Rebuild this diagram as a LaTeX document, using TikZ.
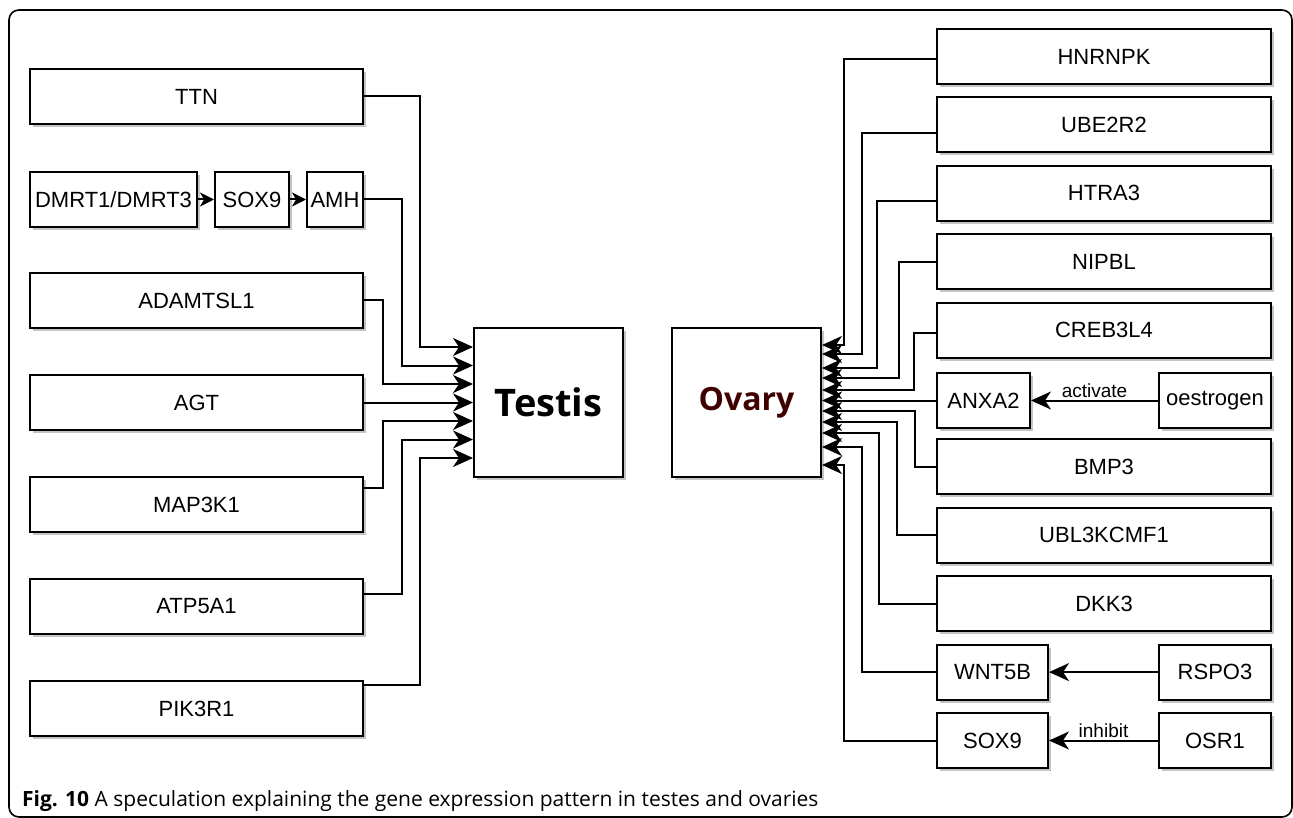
\documentclass[tikz,border=0pt]{standalone}
\usepackage{fontspec}
\setmainfont{Liberation Sans}
\newfontfamily\capfont{Open Sans}
\usetikzlibrary{arrows.meta,shadows}
\definecolor{Shade}{RGB}{196,196,196}
\definecolor{Ored}{RGB}{64,0,0}

\begin{document}
\begin{tikzpicture}[x=1pt,y=-1pt,line join=miter,
  gene/.style={draw,line width=2pt,fill=white,inner sep=0pt,minimum height=55pt,
    font=\fontsize{22}{24}\selectfont,
    drop shadow={shadow xshift=3pt,shadow yshift=-3pt,fill=Shade,opacity=1}},
  organ/.style={gene,minimum width=149pt,minimum height=149pt,font=\capfont\bfseries\fontsize{38}{42}\selectfont},
  conn/.style={line width=2pt,-{Stealth[length=20pt,width=18pt,inset=6pt]}},
  short/.style={line width=2pt,-{Stealth[length=14pt,width=14pt,inset=4pt]}},
  tag/.style={font=\fontsize{19}{21}\selectfont,inner sep=2pt}]
\path[use as bounding box] (0,0) rectangle (1293,818);
\draw[line width=1.6pt,rounded corners=10pt] (9,10) rectangle (1292,817);
% testis side
\node[gene,minimum width=333pt] (ttn) at (196.5,96.5) {TTN};
\node[gene,minimum width=167pt] (dmrt) at (113.5,199.5) {DMRT1/DMRT3};
\node[gene,minimum width=74pt] (soxa) at (252,199.5) {SOX9};
\node[gene,minimum width=56pt] (amh) at (335,199.5) {AMH};
\node[gene,minimum width=333pt] (adam) at (196.5,300.5) {ADAMTSL1};
\node[gene,minimum width=333pt] (agt) at (196.5,402.5) {AGT};
\node[gene,minimum width=333pt] (mapk) at (196.5,504.5) {MAP3K1};
\node[gene,minimum width=333pt] (atp) at (196.5,606.5) {ATP5A1};
\node[gene,minimum width=333pt] (pik) at (196.5,708.5) {PIK3R1};
\node[organ] (testis) at (548.5,402.5) {Testis};
% ovary side
\node[organ,text=Ored,font=\capfont\bfseries\fontsize{32}{36}\selectfont] (ovary) at (746.5,402.5) {Ovary};
\node[gene,minimum width=334pt] (hnr) at (1104,56.5) {HNRNPK};
\node[gene,minimum width=334pt] (ube) at (1104,124.9) {UBE2R2};
\node[gene,minimum width=334pt] (htra) at (1104,193.3) {HTRA3};
\node[gene,minimum width=334pt] (nip) at (1104,261.7) {NIPBL};
\node[gene,minimum width=334pt] (creb) at (1104,330.1) {CREB3L4};
\node[gene,minimum width=93pt] (anx) at (983.5,400.5) {ANXA2};
\node[gene,minimum width=112pt] (oes) at (1215,400.5) {oestrogen};
\node[gene,minimum width=334pt] (bmp) at (1104,466.9) {BMP3};
\node[gene,minimum width=334pt] (ubl) at (1104,535.3) {UBL3KCMF1};
\node[gene,minimum width=334pt] (dkk) at (1104,603.7) {DKK3};
\node[gene,minimum width=111pt] (wnt) at (992.5,672.1) {WNT5B};
\node[gene,minimum width=112pt] (rsp) at (1215,672.1) {RSPO3};
\node[gene,minimum width=111pt] (soxb) at (992.5,740.5) {SOX9};
\node[gene,minimum width=112pt] (osr) at (1215,740.5) {OSR1};
% links into testis
\draw[short] (dmrt) -- (soxa);
\draw[short] (soxa) -- (amh);
\draw[conn] (ttn.east) -- ++(56,0) |- ([yshift=55.5pt]testis.west);
\draw[conn] (amh.east) -- ++(38,0) |- ([yshift=37pt]testis.west);
\draw[conn] (adam.east) -- ++(19,0) |- ([yshift=18.5pt]testis.west);
\draw[conn] (agt.east) -- (testis.west);
\draw[conn] ([yshift=16.5pt]mapk.east) -- ++(19,0) |- ([yshift=-18.5pt]testis.west);
\draw[conn] ([yshift=12.5pt]atp.east) -- ++(38,0) |- ([yshift=-37pt]testis.west);
\draw[conn] ([yshift=23.5pt]pik.east) -- ++(56,0) |- ([yshift=-55.5pt]testis.west);
% links into ovary
\draw[conn] ([yshift=-2.5pt]hnr.west) -- ++(-92,0) |- ([yshift=57.5pt]ovary.east);
\draw[conn] ([yshift=-8pt]ube.west) -- ++(-74,0) |- ([yshift=48.5pt]ovary.east);
\draw[conn] ([yshift=-8pt]htra.west) -- ++(-59,0) |- ([yshift=34.5pt]ovary.east);
\draw[conn] (nip.west) -- ++(-37,0) |- ([yshift=24.5pt]ovary.east);
\draw[conn] ([yshift=-3pt]creb.west) -- ++(-22,0) |- ([yshift=12.5pt]ovary.east);
\draw[conn] (anx.west) -- (anx.west -| ovary.east);
\draw[conn] (bmp.west) -- ++(-21,0) |- ([yshift=-8.5pt]ovary.east);
\draw[conn] (ubl.west) -- ++(-39,0) |- ([yshift=-19.5pt]ovary.east);
\draw[conn] (dkk.west) -- ++(-57,0) |- ([yshift=-30.5pt]ovary.east);
\draw[conn] (wnt.west) -- ++(-74,0) |- ([yshift=-44.5pt]ovary.east);
\draw[conn] (soxb.west) -- ++(-92,0) |- ([yshift=-62.5pt]ovary.east);
% regulators
\draw[conn] (oes.west) -- node[tag,above] {activate} (anx.east);
\draw[conn] (rsp.west) -- (wnt.east);
\draw[conn] (osr.west) -- node[tag,above] {inhibit} (soxb.east);
\node[anchor=west,inner sep=0pt,font=\capfont\fontsize{21}{23}\selectfont] (cap) at (22,801)
  {\textbf{Fig. 10} A speculation explaining the gene expression pattern in testes and ovaries};
\end{tikzpicture}
\end{document}
